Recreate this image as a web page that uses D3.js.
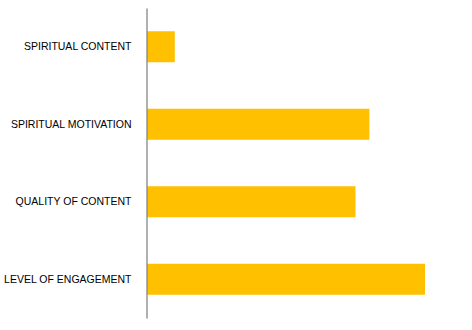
<!DOCTYPE html>
<html><head><meta charset="utf-8">
<script src="https://cdn.jsdelivr.net/npm/d3@7"></script>
<style>html,body{margin:0;padding:0;background:#fff;}</style>
</head><body>
<svg id="chart" width="472" height="330"></svg>
<script>
const categories = ["SPIRITUAL CONTENT", "SPIRITUAL MOTIVATION", "QUALITY OF CONTENT", "LEVEL OF ENGAGEMENT"];
const values = [10, 80, 75, 100];

const svg = d3.select("#chart");
const margin = {left: 147, right: 47, top: 8, bottom: 12};
const W = 472, H = 330;

const x = d3.scaleLinear().domain([0, 100]).range([margin.left, W - margin.right]);
const y = d3.scaleBand().domain(categories).range([margin.top, H - margin.bottom])
  .paddingInner(0.6).paddingOuter(0.3);

svg.selectAll("rect.bar").data(categories).join("rect")
  .attr("class", "bar")
  .attr("x", x(0))
  .attr("y", d => y(d))
  .attr("width", (d, i) => x(values[i]) - x(0))
  .attr("height", y.bandwidth())
  .attr("fill", "#FFC000");

const axis = d3.axisLeft(y).tickSize(0).tickPadding(15);
const g = svg.append("g").attr("transform", `translate(${x(0) - 0.5},0)`).call(axis);
g.select(".domain").attr("stroke", "#868686").attr("stroke-width", 1.3);
g.selectAll("text").attr("font-family", "'Liberation Sans', Arial, sans-serif")
  .attr("font-size", 10.5).attr("fill", "#000");
</script>
</body></html>
